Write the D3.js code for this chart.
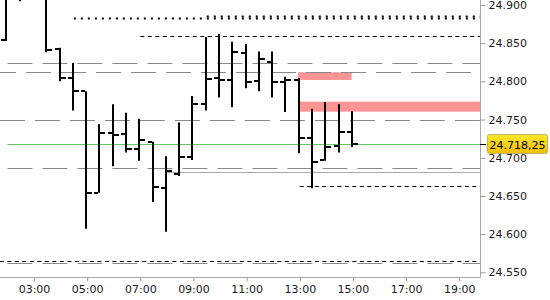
<!DOCTYPE html>
<html>
<head>
<meta charset="utf-8">
<script src="https://cdn.jsdelivr.net/npm/d3@7"></script>
<style>
  body { margin: 0; background: #fff; }
  svg { display: block; font-family: "DejaVu Sans", Verdana, sans-serif; }
</style>
</head>
<body>
<svg id="chart" width="550" height="300"></svg>
<script>
// half-hour bars
const times  = ["02:00","02:30","03:00","03:30","04:00","04:30","05:00","05:30","06:00","06:30","07:00","07:30","08:00",
                "08:30","09:00","09:30","10:00","10:30","11:00","11:30","12:00","12:30","13:00","13:30","14:00","14:30","15:00"];
const opens  = [24.854,24.915,24.930,24.940,24.842,24.804,24.787,24.654,24.732,24.731,24.711,24.721,24.660,
                24.679,24.701,24.770,24.804,24.802,24.837,24.800,24.825,24.799,24.802,24.726,24.697,24.715,24.734];
const highs  = [24.935,24.945,24.960,24.950,24.844,24.824,24.787,24.744,24.770,24.759,24.751,24.721,24.702,
                24.746,24.781,24.858,24.862,24.852,24.849,24.839,24.839,24.806,24.804,24.764,24.773,24.770,24.761];
const lows   = [24.853,24.905,24.915,24.838,24.800,24.762,24.607,24.654,24.689,24.707,24.696,24.642,24.603,
                24.676,24.697,24.762,24.779,24.766,24.791,24.787,24.779,24.760,24.706,24.660,24.696,24.707,24.714];
const closes = [24.915,24.930,24.940,24.841,24.804,24.787,24.654,24.732,24.730,24.711,24.723,24.662,24.683,
                24.701,24.770,24.803,24.802,24.838,24.799,24.829,24.799,24.802,24.726,24.694,24.714,24.734,24.71825];

const lastPrice = 24.71825;
const priceTicks = [24.550, 24.600, 24.650, 24.700, 24.750, 24.800, 24.850, 24.900];
const timeTicks = ["03:00","05:00","07:00","09:00","11:00","13:00","15:00","17:00","19:00"];

// level lines: price, start time
const grayDashLevels = [24.8237, 24.8123, 24.750, 24.6862, 24.5618];
const grayDashStarts = ["02:00", "01:23", "01:43", "02:00", "02:00"];
const blackDashLevels = [24.8598, 24.6626, 24.5644];
const blackDashStarts = ["07:00", "13:00", "01:43"];
const dotLevels = [24.8836, 24.8850];
const dotStarts = ["04:30", "09:30"];
const solidLevels = [24.681];
const solidStarts = ["08:00"];

// zones: from, to, top, bottom
const zoneFrom = ["12:56", "12:58"];
const zoneTo = ["14:57", "20:00"];
const zoneTop = [24.8119, 24.7734];
const zoneBottom = [24.8018, 24.7603];

const W = 480, H = 277;
const parseT = s => { const [h, m] = s.split(":").map(Number); return new Date(2020, 0, 1, h, m); };

const svg = d3.select("#chart");

const x = d3.scaleTime()
    .domain([new Date(2020, 0, 1, 1, 43, 15), new Date(2020, 0, 1, 19, 46, 50)])
    .range([0, W]);
const y = d3.scaleLinear().domain([24.55, 24.9]).range([272.3, 5]);

svg.append("clipPath").attr("id", "plot")
  .append("rect").attr("x", 0).attr("y", 0).attr("width", W).attr("height", H);

const plot = svg.append("g").attr("clip-path", "url(#plot)");
const py = v => Math.round(y(v)) + 0.5;

// zones
plot.selectAll("rect.zone").data(zoneFrom.map((f, i) => ({f, t: zoneTo[i], top: zoneTop[i], bot: zoneBottom[i]})))
  .join("rect").attr("class", "zone")
    .attr("x", d => x(parseT(d.f)))
    .attr("width", d => x(parseT(d.t)) - x(parseT(d.f)))
    .attr("y", d => y(d.top))
    .attr("height", d => y(d.bot) - y(d.top))
    .attr("fill", "#ff9494");

function levels(prices, starts, cls, color, dash, width) {
  plot.selectAll("line." + cls).data(prices.map((p, i) => ({p, s: starts[i]})))
    .join("line").attr("class", cls)
      .attr("x1", d => x(parseT(d.s))).attr("x2", W)
      .attr("y1", d => py(d.p)).attr("y2", d => py(d.p))
      .attr("stroke", color).attr("stroke-width", width)
      .attr("stroke-dasharray", dash);
}
levels(grayDashLevels, grayDashStarts, "gdash", "#8a8a8a", "25,10", 1.2);
levels(solidLevels, solidStarts, "solid", "#a8a8a8", null, 1.2);
levels(blackDashLevels, blackDashStarts, "bdash", "#000", "4,3.5", 1);
levels(dotLevels, dotStarts, "dot", "#000", "2,5", 2);

// last price line
plot.append("line")
    .attr("x1", x(parseT("02:00"))).attr("x2", W)
    .attr("y1", py(lastPrice)).attr("y2", py(lastPrice))
    .attr("stroke", "#62c862").attr("stroke-width", 1);

// OHLC bars
const bars = times.map((t, i) => ({t: parseT(t), o: opens[i], h: highs[i], l: lows[i], c: closes[i]}));
const bx = d => Math.round(x(d.t)) - 1;
const g = plot.selectAll("g.bar").data(bars).join("g").attr("class", "bar")
    .attr("stroke", "#000").attr("stroke-width", 2);
g.append("line").attr("x1", bx).attr("x2", bx)
    .attr("y1", d => y(d.h)).attr("y2", d => y(d.l));
g.append("line").attr("x1", d => bx(d) - 5).attr("x2", d => bx(d) - 1)
    .attr("y1", d => Math.round(y(d.o))).attr("y2", d => Math.round(y(d.o)));
g.append("line").attr("x1", d => bx(d) + 1).attr("x2", d => bx(d) + 6)
    .attr("y1", d => Math.round(y(d.c))).attr("y2", d => Math.round(y(d.c)));

// frame
svg.append("line").attr("x1", W + 0.5).attr("x2", W + 0.5).attr("y1", 0).attr("y2", H + 0.5)
    .attr("stroke", "#aaa");
svg.append("line").attr("x1", 0).attr("x2", W + 0.5).attr("y1", H + 0.5).attr("y2", H + 0.5)
    .attr("stroke", "#aaa");

// axes
const yAxis = svg.append("g").attr("transform", `translate(${W + 0.5},0)`)
  .call(d3.axisRight(y).tickValues(priceTicks).tickFormat(d3.format(".3f")).tickSize(5).tickPadding(3));
const xAxis = svg.append("g").attr("transform", `translate(0,${H + 0.5})`)
  .call(d3.axisBottom(x).tickValues(timeTicks.map(parseT)).tickFormat(d3.timeFormat("%H:%M")).tickSize(4).tickPadding(4));
[yAxis, xAxis].forEach(a => {
  a.select(".domain").remove();
  a.selectAll(".tick line").attr("stroke", "#999");
  a.selectAll("text").attr("fill", "#1a1a1a").style("font-size", "11px")
    .style("font-family", '"DejaVu Sans", Verdana, sans-serif');
});

// current price label
const grad = svg.append("defs").append("linearGradient").attr("id", "gold")
    .attr("x1", 0).attr("y1", 0).attr("x2", 0).attr("y2", 1);
grad.append("stop").attr("offset", "0%").attr("stop-color", "#ffe82a");
grad.append("stop").attr("offset", "100%").attr("stop-color", "#f2be00");

const euro = d3.formatLocale({decimal: ",", thousands: ".", grouping: [3], currency: ["", ""]});
const ly = Math.round(y(lastPrice));
svg.append("line").attr("x1", W).attr("x2", W + 6).attr("y1", ly + 0.5).attr("y2", ly + 0.5)
    .attr("stroke", "#000");
svg.append("rect").attr("x", 487.5).attr("y", ly - 9.5).attr("width", 60).attr("height", 19)
    .attr("rx", 2).attr("fill", "url(#gold)").attr("stroke", "#b0a060").attr("stroke-width", 0.8);
svg.append("text").attr("x", 489.5).attr("y", ly + 4.5)
    .attr("fill", "#000").style("font-size", "11px")
    .text(euro.format(",.2f")(lastPrice * 1000));
</script>
</body>
</html>
